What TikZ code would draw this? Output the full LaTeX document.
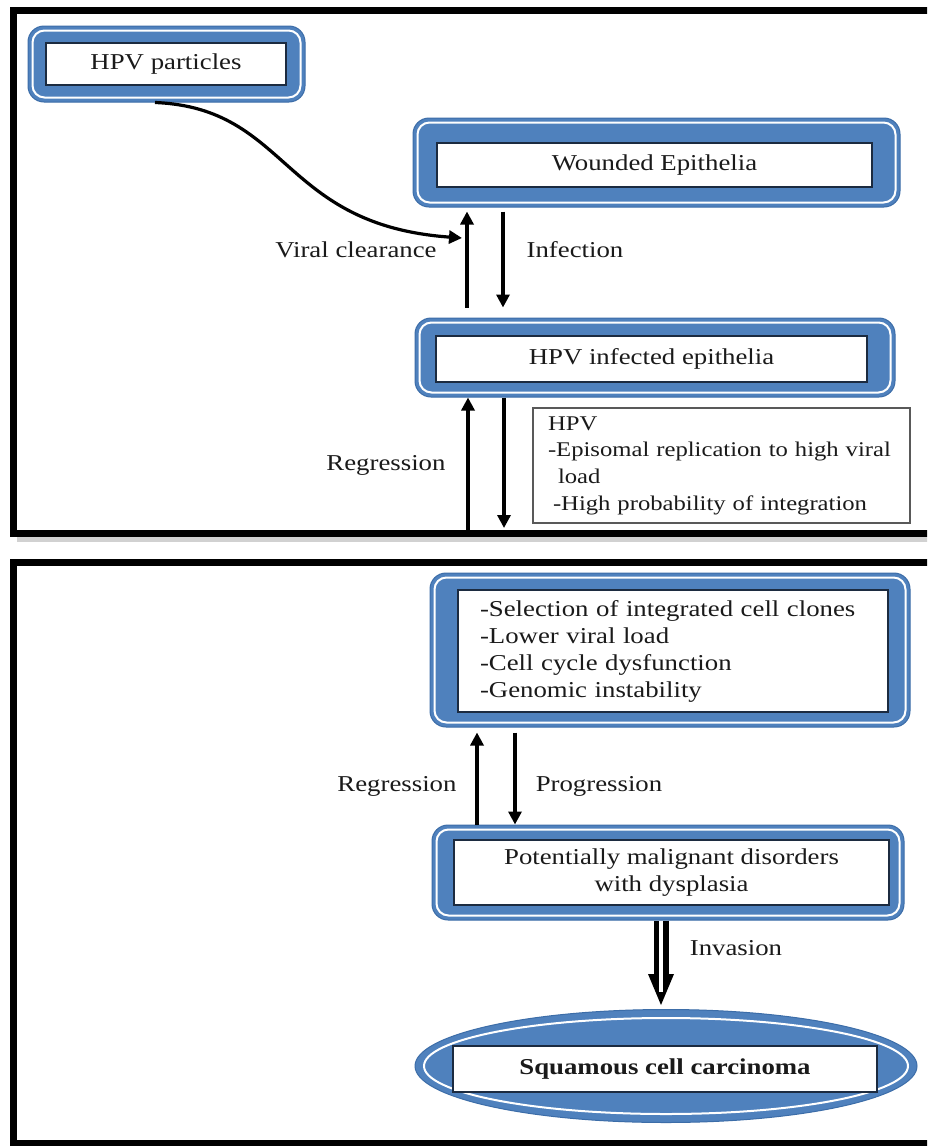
\documentclass[tikz,border=0pt]{standalone}
\usepackage{fontspec}
\setmainfont{Liberation Serif}[FakeStretch=1.18]
\usetikzlibrary{arrows.meta,shapes.geometric}
\definecolor{fblue}{HTML}{4F81BD}
\definecolor{fedge}{HTML}{3C6DA8}
\definecolor{inkline}{HTML}{1C2B40}
\definecolor{txtc}{HTML}{1A1A1A}
\newcommand{\mainfs}{\fontsize{22.7}{27}\selectfont}
\newcommand{\notefs}{\fontsize{20.9}{26.7}\selectfont}
\newcommand{\insetline}[1]{\draw[white, line width=2, rounded corners=12] ([shift={(5,5)}]#1.north west) rectangle ([shift={(-5,-5)}]#1.south east);}
\begin{document}
\begin{tikzpicture}[x=1pt,y=-1pt,
  outerframe/.style={draw=fedge, line width=1, fill=fblue, rounded corners=16, inner sep=0},
  innerbox/.style={draw=inkline, line width=1.2, fill=white, inner sep=0, text=txtc, font=\mainfs},
  lbl/.style={text=txtc, font=\mainfs, inner sep=0},
  panel/.style={draw=black, line width=7, line join=miter},
  arr/.style={line width=3.2, -{Triangle[length=13pt,width=13pt]}}]
\useasboundingbox (0,0) rectangle (927,1146);
\clip (0,0) rectangle (927,1146);
\fill[white] (0,0) rectangle (927,1146);

% panels
\fill[black!18] (17,537) rectangle (940,542);
\draw[panel] (940,10.5) -- (13.5,10.5) -- (13.5,533.5) -- (940,533.5);
\draw[panel] (940,562) -- (13.5,562) -- (13.5,1143) -- (940,1143);

% HPV particles
\node[outerframe, minimum width=277, minimum height=76] (f1) at (166.5,64) {};
\insetline{f1}
\node[innerbox, minimum width=240, minimum height=42] (hpv) at (166,64) {HPV particles};

% Wounded epithelia
\node[outerframe, minimum width=487, minimum height=89] (f2) at (656.5,162.5) {};
\insetline{f2}
\node[innerbox, minimum width=435, minimum height=44] (wound) at (654.5,165) {Wounded Epithelia};

% HPV infected epithelia
\node[outerframe, minimum width=480, minimum height=79] (f3) at (655,357.5) {};
\insetline{f3}
\node[innerbox, minimum width=431, minimum height=46] (infected) at (651.5,359) {HPV infected epithelia};

% note box
\node[draw=gray!70!black, line width=1.2, fill=white, minimum height=115, text width=347, inner xsep=15, align=left, font=\notefs, text=txtc] (note) at (721.5,465.5)
 {HPV\\-Episomal replication to high viral\\\hspace*{10pt}load\\\hspace*{5pt}-High probability of integration};

% Selection box
\node[outerframe, minimum width=480, minimum height=154] (f4) at (670,650) {};
\insetline{f4}
\node[innerbox, minimum height=122, text width=386, inner xsep=22, align=left] (sel) at (673,651)
 {-Selection of integrated cell clones\\-Lower viral load\\-Cell cycle dysfunction\\-Genomic instability};

% Potentially malignant
\node[outerframe, minimum width=472, minimum height=95] (f5) at (668,872.5) {};
\insetline{f5}
\node[innerbox, minimum width=435, minimum height=65, align=center] (pmd) at (671.5,872.5)
 {Potentially malignant disorders\\with dysplasia};

% Squamous cell carcinoma
\node[ellipse, draw=fedge, line width=1, fill=fblue, minimum width=502, minimum height=113, inner sep=0] (ell) at (666,1066) {};
\draw[white, line width=2] (ell.center) ellipse [x radius=242, y radius=48];
\node[innerbox, minimum width=424, minimum height=46] (scc) at (665,1069) {\bfseries Squamous cell carcinoma};

% curve
\coordinate (vcend) at (462,238);
\draw[arr] ([shift={(-11.5,0)}]f1.south) .. controls (290,108) and (280,225) .. (vcend);

% arrows top panel
\draw[arr, shorten <=10pt, shorten >=4pt] ([shift={(-188,0)}]f3.north) -- ([shift={(-189.5,0)}]f2.south);
\draw[arr, shorten <=4pt, shorten >=10pt] ([shift={(-153.5,0)}]f2.south) -- ([shift={(-152,0)}]f3.north);
\coordinate (p1) at (468,531);
\coordinate (p2) at (504,528);
\draw[arr] (p1) -- ([shift={(-187,0)}]f3.south);
\draw[arr] ([shift={(-151,0)}]f3.south) -- (p2);

% arrows bottom panel
\draw[arr, shorten >=5pt] ([shift={(-191,0)}]f5.north) -- ([shift={(-193,0)}]f4.south);
\draw[arr, shorten <=5pt] ([shift={(-155,0)}]f4.south) -- ([shift={(-153,0)}]f5.north);

% invasion arrow
\coordinate (ia) at ([shift={(-7,0)}]f5.south);
\coordinate (ib) at ([shift={(-5,-4)}]ell.north);
\draw[line width=15] (ia) -- ([shift={(0,-30)}]ib);
\fill (ib) -- ++(-13,-31) -- ++(26,0) -- cycle;
\draw[white, line width=4] (ia) -- ([shift={(0,-13)}]ib);

% labels
\node[lbl] (vc) at (356,250) {Viral clearance};
\node[lbl] (infl) at (575,250) {Infection};
\node[lbl] (reg1) at (386,465) {Regression};
\node[lbl] (reg2) at (397,786) {Regression};
\node[lbl] (prog) at (599,786) {Progression};
\node[lbl] (inv) at (736,948) {Invasion};
\end{tikzpicture}
\end{document}
